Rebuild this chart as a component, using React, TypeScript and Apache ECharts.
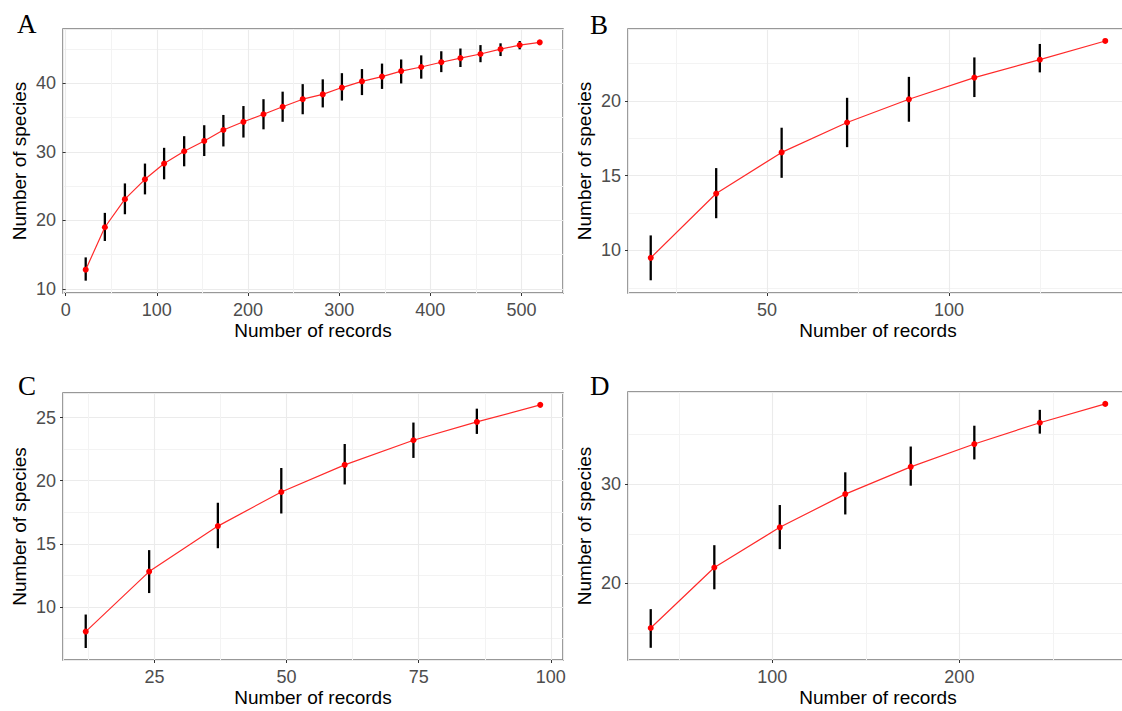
import React, { useEffect, useRef } from "react";
import * as echarts from "echarts";

// Panel A
const aX = [22, 43, 65, 87, 108, 130, 152, 173, 195, 217, 238, 260, 282, 303, 325, 347, 368, 390, 412, 433, 455, 477, 498, 520];
const aY = [12.8, 19.0, 23.1, 26.0, 28.3, 30.1, 31.6, 33.2, 34.4, 35.5, 36.6, 37.7, 38.4, 39.4, 40.3, 41.0, 41.8, 42.4, 43.1, 43.7, 44.3, 45.0, 45.6, 46.0];
const aLo = [11.2, 17.0, 20.9, 23.8, 26.0, 27.9, 29.4, 30.8, 32.1, 33.3, 34.4, 35.5, 36.5, 37.5, 38.3, 39.2, 40.0, 40.7, 41.65, 42.4, 43.1, 44.0, 44.98, 46.0];
const aHi = [14.6, 21.1, 25.4, 28.3, 30.6, 32.3, 33.9, 35.4, 36.7, 37.7, 38.8, 39.9, 40.6, 41.5, 42.1, 42.9, 43.5, 44.1, 44.7, 45.1, 45.6, 45.86, 46.2, 46.0];

// Panel B
const bX = [18, 36, 54, 72, 89, 107, 125, 143];
const bY = [9.5, 13.8, 16.55, 18.55, 20.1, 21.55, 22.75, 24.0];
const bLo = [8.0, 12.15, 14.85, 16.9, 18.6, 20.25, 21.9, 24.0];
const bHi = [11.0, 15.5, 18.2, 20.2, 21.6, 22.9, 23.8, 24.0];

// Panel C
const cX = [12, 24, 37, 49, 61, 74, 86, 98];
const cY = [8.05, 12.8, 16.4, 19.1, 21.25, 23.2, 24.65, 26.0];
const cLo = [6.75, 11.1, 14.65, 17.4, 19.7, 21.8, 23.7, 26.0];
const cHi = [9.4, 14.5, 18.25, 21.0, 22.9, 24.6, 25.7, 26.0];

// Panel D
const dX = [35, 69, 104, 139, 174, 208, 243, 278];
const dY = [15.5, 21.6, 25.65, 29.0, 31.75, 34.05, 36.2, 38.1];
const dLo = [13.5, 19.4, 23.45, 26.95, 29.85, 32.5, 35.1, 38.1];
const dHi = [17.4, 23.85, 27.9, 31.2, 33.8, 35.9, 37.5, 38.1];

// Axis ranges and tick intervals
const xRanges = [[-2.9, 545.5], [11.75, 149.25], [7.7, 102.3], [22.85, 290.15]];
const yRanges = [[9.4, 47.95], [7.15, 24.8], [5.8, 26.94], [12.27, 39.3]];
const xIntervals = [100, 50, 25, 100];
const yIntervals = [10, 5, 5, 10];
const panelLabels = ["A", "B", "C", "D"];

const grids = [
  { left: 63, top: 29, width: 500, height: 264 },
  { left: 628, top: 29, width: 500, height: 264 },
  { left: 63, top: 393, width: 500, height: 267 },
  { left: 628, top: 392, width: 500, height: 268 },
];
const labelPos = [
  [17, 24],
  [590, 25],
  [18, 386],
  [590, 386],
];

const FONT = '"Liberation Sans", Arial, sans-serif';

export default function App() {
  const ref = useRef<HTMLDivElement>(null);
  useEffect(() => {
    if (!ref.current) return;
    const chart = echarts.init(ref.current, null, { renderer: "svg" });
    const panels = [
      [aX, aY, aLo, aHi],
      [bX, bY, bLo, bHi],
      [cX, cY, cLo, cHi],
      [dX, dY, dLo, dHi],
    ];
    const axisCommon = (interval: number, range: number[]) => ({
      type: "value",
      min: range[0],
      max: range[1],
      minInterval: interval,
      maxInterval: interval,
      splitNumber: 5,
      axisLine: { show: false },
      axisTick: { show: true, length: 3, lineStyle: { color: "#333", width: 1 } },
      axisLabel: {
        showMinLabel: false,
        showMaxLabel: false,
        color: "#4D4D4D",
        fontSize: 18,
        fontFamily: FONT,
      },
      splitLine: { show: true, lineStyle: { color: "#EBEBEB", width: 1.1 } },
      minorTick: { show: false, splitNumber: 2 },
      minorSplitLine: { show: true, lineStyle: { color: "#F3F3F3", width: 1 } },
      nameLocation: "middle",
      nameTextStyle: { color: "#000", fontSize: 19, fontFamily: FONT },
    });
    const xAxis = panels.map((_, i) => {
      const a: any = axisCommon(xIntervals[i], xRanges[i]);
      a.gridIndex = i;
      a.name = "Number of records";
      a.nameGap = 28;
      a.axisLabel.margin = 8;
      return a;
    });
    const yAxis = panels.map((_, i) => {
      const a: any = axisCommon(yIntervals[i], yRanges[i]);
      a.gridIndex = i;
      a.name = "Number of species";
      a.nameGap = 34;
      a.axisLabel.margin = 7;
      return a;
    });
    const series: any[] = [];
    panels.forEach((p, i) => {
      const [xs, ys, lo, hi] = p;
      series.push({
        type: "custom",
        xAxisIndex: i,
        yAxisIndex: i,
        silent: true,
        z: 2,
        data: xs.map((x, k) => [x, lo[k], hi[k]]),
        encode: { x: 0, y: [1, 2] },
        renderItem: (params: any, api: any) => {
          const p1 = api.coord([api.value(0), api.value(1)]);
          const p2 = api.coord([api.value(0), api.value(2)]);
          return {
            type: "line",
            shape: { x1: p1[0], y1: p1[1], x2: p2[0], y2: p2[1] },
            style: { stroke: "#000", lineWidth: 2.3 },
          };
        },
      });
      series.push({
        type: "line",
        xAxisIndex: i,
        yAxisIndex: i,
        z: 3,
        data: xs.map((x, k) => [x, ys[k]]),
        symbol: "circle",
        symbolSize: 6,
        showSymbol: true,
        itemStyle: { color: "#FF0000" },
        lineStyle: { color: "#FF2A2A", width: 1.2 },
        silent: true,
      });
    });
    chart.setOption({
      animation: false,
      backgroundColor: "#fff",
      grid: grids.map((g) => ({
        ...g,
        show: true,
        borderColor: "#777",
        borderWidth: 1.5,
        backgroundColor: "transparent",
        containLabel: false,
      })),
      xAxis,
      yAxis,
      series,
      graphic: panelLabels.map((t, i) => ({
        type: "text",
        x: labelPos[i][0],
        y: labelPos[i][1],
        style: {
          text: t,
          fill: "#000",
          fontSize: 27,
          fontFamily: '"Liberation Serif", "Times New Roman", serif',
          verticalAlign: "middle",
          align: "left",
        },
      })),
    });
    return () => chart.dispose();
  }, []);
  return (
    <div style={{ position: "absolute", left: 0, top: 0, width: 1122, height: 711, overflow: "hidden" }}>
      <div ref={ref} style={{ width: 1140, height: 711 }} />
    </div>
  );
}
